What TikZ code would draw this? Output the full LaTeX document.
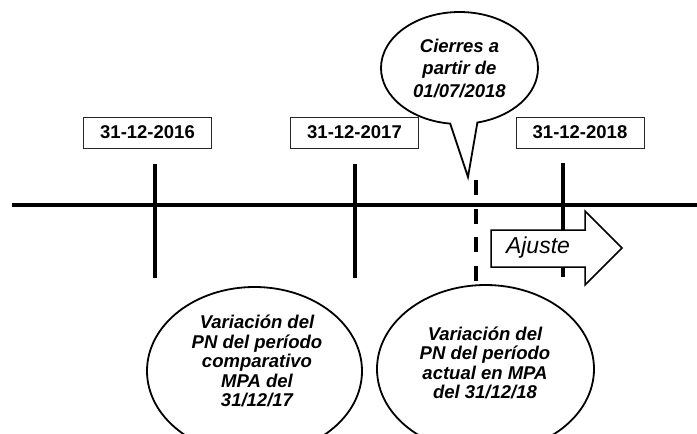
\documentclass[tikz,border=0pt]{standalone}
\usepackage{fontspec}
\setmainfont{Liberation Sans}
\usetikzlibrary{shapes.geometric,shapes.callouts}
\begin{document}
\begin{tikzpicture}[x=1pt,y=-1pt,
  axis/.style={line width=4pt},
  tickline/.style={line width=4.5pt},
  dashline/.style={line width=4pt, dash pattern=on 15pt off 13.5pt},
  datebox/.style={draw=black!85, line width=1pt, minimum width=128pt, minimum height=31pt, inner sep=0pt,
    font=\fontsize{18.5}{20}\selectfont\bfseries},
  oval/.style={ellipse, draw, line width=1.8pt, inner sep=0pt},
  ovaltext/.style={align=center, inner sep=0pt, font=\fontsize{18.5}{19.5}\selectfont\bfseries\itshape},
  bubble/.style={ellipse callout, draw, fill=white, line width=1.8pt, inner sep=0pt,
    align=center, font=\fontsize{18.5}{22.5}\selectfont\bfseries\itshape},
  arrowshape/.style={draw, fill=white, line width=1.5pt, line join=miter},
]
\useasboundingbox (0,0) rectangle (697,434);
\fill[white] (0,0) rectangle (697,434);

% main time axis
\coordinate (A0) at (12,204.5);
\coordinate (A1) at (697,204.5);
\draw[axis] (A0) -- (A1);

% ticks
\coordinate (T1a) at (155,164); \coordinate (T1b) at (155,278);
\coordinate (T2a) at (355,164); \coordinate (T2b) at (355,278);
\coordinate (T3a) at (563,163); \coordinate (T3b) at (563,277);
\draw[tickline] (T1a) -- (T1b);
\draw[tickline] (T2a) -- (T2b);
\draw[tickline] (T3a) -- (T3b);

% dashed line
\coordinate (Da) at (475.5,180);
\coordinate (Db) at (475.5,282);
\draw[dashline] (Da) -- (Db);

% date boxes
\node[datebox] (b1) at (147.5,132.5) {31-12-2016};
\node[datebox] (b2) at (354.5,132.5) {31-12-2017};
\node[datebox] (b3) at (580,132.5) {31-12-2018};

% speech bubble
\node[bubble, minimum width=157pt, minimum height=112pt,
  callout absolute pointer={(468,177)}, callout pointer arc=20] (bub) at (459.5,68)
  {Cierres a\\partir de\\01/07/2018};

% Ajuste arrow
\draw[arrowshape] (491,230) -- (585,230) -- (585,211) -- (622,248) -- (585,285) -- (585,267) -- (491,267) -- cycle;
\node[font=\fontsize{23}{25}\selectfont\itshape, inner sep=0pt] (aj) at (538,248) {Ajuste};

% bottom ellipses
\node[oval, minimum width=215pt, minimum height=168pt] (e1) at (254.5,371) {};
\node[ovaltext] (t1) at (257,361) {Variación del\\PN del período\\comparativo\\MPA del\\31/12/17};
\node[oval, minimum width=217pt, minimum height=168pt] (e2) at (485.5,369) {};
\node[ovaltext] (t2) at (485,363) {Variación del\\PN del período\\actual en MPA\\del 31/12/18};
\end{tikzpicture}
\end{document}
